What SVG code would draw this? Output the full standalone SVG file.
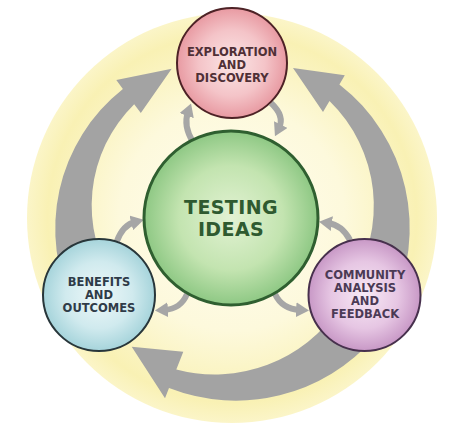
<svg xmlns="http://www.w3.org/2000/svg" width="474" height="436" viewBox="0 0 474 436">
  <defs>
    <style>
      .big { fill: #a3a3a3; }
      .small { fill: none; stroke: #a6a6a6; stroke-width: 6; marker-end: url(#head); }
      .node { stroke-width: 2; }
      .lbl { font-family: "DejaVu Sans", Verdana, sans-serif; font-weight: bold; font-size: 11.5px; text-anchor: middle; }
      .main { font-family: "DejaVu Sans", Verdana, sans-serif; font-weight: bold; font-size: 19px; letter-spacing: 0.4px; text-anchor: middle; fill: #2f5a30; }
    </style>
    <radialGradient id="gBg" cx="0.5" cy="0.5" r="0.5">
      <stop offset="0" stop-color="#fffdf0"/>
      <stop offset="0.55" stop-color="#fdf9dc"/>
      <stop offset="0.9" stop-color="#f9f1b4"/>
      <stop offset="1" stop-color="#fbf5c8"/>
    </radialGradient>
    <radialGradient id="gPink" cx="0.5" cy="0.5" r="0.5">
      <stop offset="0" stop-color="#fbe6e6"/>
      <stop offset="0.6" stop-color="#f4c4c8"/>
      <stop offset="1" stop-color="#e89aa2"/>
    </radialGradient>
    <radialGradient id="gGreen" cx="0.5" cy="0.5" r="0.5">
      <stop offset="0" stop-color="#e2f2d3"/>
      <stop offset="0.6" stop-color="#c3e4b0"/>
      <stop offset="1" stop-color="#8ec884"/>
    </radialGradient>
    <radialGradient id="gBlue" cx="0.5" cy="0.5" r="0.5">
      <stop offset="0" stop-color="#eef8f9"/>
      <stop offset="0.6" stop-color="#d0eaee"/>
      <stop offset="1" stop-color="#a6d4db"/>
    </radialGradient>
    <radialGradient id="gPurple" cx="0.5" cy="0.5" r="0.5">
      <stop offset="0" stop-color="#f8eaf6"/>
      <stop offset="0.6" stop-color="#e6c6e3"/>
      <stop offset="1" stop-color="#c898c6"/>
    </radialGradient>
    <marker id="head" markerUnits="userSpaceOnUse" viewBox="0 0 10 10" markerWidth="13" markerHeight="15" refX="3" refY="5" orient="auto" preserveAspectRatio="none">
      <path d="M0,0 L10,5 L0,10 z" fill="#a6a6a6"/>
    </marker>
  </defs>

  <rect x="0" y="0" width="474" height="436" fill="#ffffff"/>
  <circle cx="232" cy="218" r="205" fill="url(#gBg)"/>

  <g id="connectors">
    <!-- big cycle arrows -->
    <path class="big" d="M74.4,309 A178,178 0 0 1 122.9,89 L116.3,80.1 L171.7,68.7 L140.8,113.1 L134.2,104.2 A142,142 0 0 0 116,285 Z"/>
    <path class="big" d="M390.5,309.5 A182,182 0 0 0 339.4,84.4 L344.8,75.2 L293,68 L323,112 L329.5,101 A146,146 0 0 1 349.8,286 Z"/>
    <path class="big" d="M374.5,337.6 A184,184 0 0 1 169,388.1 L165,398.3 L131.7,346.7 L183.3,351.7 L176.3,369.4 A150,150 0 0 0 339.2,308 Z"/>
    <!-- small two-way arrows -->
    <path class="small" d="M193,142 Q183,126 188,112"/>
    <path class="small" d="M271,103 Q285,116 279,128"/>
    <path class="small" d="M117,241 Q123,225 135,222"/>
    <path class="small" d="M187,294 Q181,309 164,310"/>
    <path class="small" d="M350,240 Q342,225 328,223"/>
    <path class="small" d="M275,294 Q282,309 300,310"/>
  </g>

  <g id="node-testing">
    <circle cx="231" cy="218" r="87" fill="url(#gGreen)" stroke="#2f5f30" stroke-width="3"/>
    <text class="main" x="231" y="213.5">TESTING</text>
    <text class="main" x="231" y="235.8">IDEAS</text>
  </g>

  <g id="node-exploration">
    <circle class="node" cx="232" cy="63" r="55" fill="url(#gPink)" stroke="#4d2226"/>
    <text class="lbl" fill="#4f3036" x="232" y="56">EXPLORATION</text>
    <text class="lbl" fill="#4f3036" x="232" y="69">AND</text>
    <text class="lbl" fill="#4f3036" x="232" y="82">DISCOVERY</text>
  </g>

  <g id="node-benefits">
    <circle class="node" cx="99" cy="295" r="56" fill="url(#gBlue)" stroke="#28363a"/>
    <text class="lbl" fill="#2f3b48" x="99" y="286">BENEFITS</text>
    <text class="lbl" fill="#2f3b48" x="99" y="299">AND</text>
    <text class="lbl" fill="#2f3b48" x="99" y="312">OUTCOMES</text>
  </g>

  <g id="node-community">
    <circle class="node" cx="364.5" cy="295" r="56" fill="url(#gPurple)" stroke="#47304d"/>
    <text class="lbl" fill="#4b3a55" x="365" y="279">COMMUNITY</text>
    <text class="lbl" fill="#4b3a55" x="365" y="292">ANALYSIS</text>
    <text class="lbl" fill="#4b3a55" x="365" y="305">AND</text>
    <text class="lbl" fill="#4b3a55" x="365" y="318">FEEDBACK</text>
  </g>
</svg>
